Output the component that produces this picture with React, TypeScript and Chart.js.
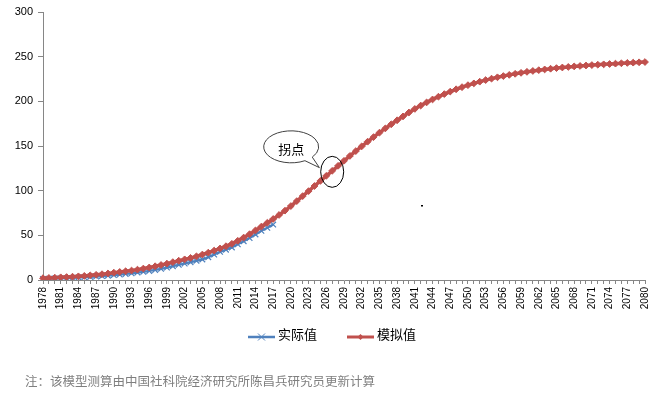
import React, { useEffect, useRef } from "react";
import { Chart, registerables } from "chart.js";

Chart.register(...registerables);

const years: string[] = [
  "1978","1979","1980","1981","1982","1983","1984","1985","1986","1987",
  "1988","1989","1990","1991","1992","1993","1994","1995","1996","1997",
  "1998","1999","2000","2001","2002","2003","2004","2005","2006","2007",
  "2008","2009","2010","2011","2012","2013","2014","2015","2016","2017",
  "2018","2019","2020","2021","2022","2023","2024","2025","2026","2027",
  "2028","2029","2030","2031","2032","2033","2034","2035","2036","2037",
  "2038","2039","2040","2041","2042","2043","2044","2045","2046","2047",
  "2048","2049","2050","2051","2052","2053","2054","2055","2056","2057",
  "2058","2059","2060","2061","2062","2063","2064","2065","2066","2067",
  "2068","2069","2070","2071","2072","2073","2074","2075","2076","2077",
  "2078","2079","2080",
];

// 实际值 1978–2017
const actual: number[] = [
  1.2, 1.4, 1.6, 1.8, 2.0, 2.3, 2.7, 3.1, 3.5, 3.9,
  4.4, 4.9, 5.5, 6.1, 6.8, 7.5, 8.3, 9.2, 10.2, 11.3,
  12.5, 13.9, 15.5, 17.0, 18.5, 20.0, 21.5, 23.0, 25.5, 28.5,
  31.5, 34.0, 36.5, 40.0, 43.5, 47.0, 51.0, 55.0, 58.5, 62.0,
];

// 模拟值 1978–2080
const simulated: number[] = [
  2.0, 2.3, 2.6, 3.0, 3.3, 3.7, 4.1, 4.6, 5.2, 5.8,
  6.5, 7.3, 8.2, 9.0, 9.8, 10.6, 11.6, 12.8, 14.0, 15.4,
  16.8, 18.3, 20.0, 21.6, 23.1, 24.7, 26.5, 28.5, 30.6, 32.9,
  35.3, 37.8, 40.5, 43.9, 47.5, 51.3, 55.5, 59.8, 64.0, 68.3,
  72.8, 77.6, 82.8, 88.3, 93.9, 99.5, 105.2, 110.9, 116.6, 122.2,
  127.8, 133.4, 138.9, 144.3, 149.6, 154.8, 159.9, 164.9, 169.7, 174.3,
  178.8, 183.1, 187.5, 191.5, 195.3, 198.8, 202.1, 205.2, 208.1, 210.9,
  213.5, 215.9, 218.1, 220.1, 222.0, 223.8, 225.4, 226.9, 228.3, 229.6,
  230.8, 231.9, 233.0, 234.0, 234.9, 235.7, 236.5, 237.2, 237.9, 238.5,
  239.1, 239.6, 240.1, 240.6, 241.0, 241.4, 241.8, 242.2, 242.6, 243.0,
  243.3, 243.7, 244.0,
];

const yTicks: number[] = [0, 50, 100, 150, 200, 250, 300];

const seriesNames: string[] = ["实际值", "模拟值"];
const turningLabel = "拐点";
const turningYear = "2027";
const footnote = "注：该模型测算由中国社科院经济研究所陈昌兵研究员更新计算";

const BLUE = "#4F81BD";
const RED = "#C0504D";
const AXIS = "#868686";
const CJK = "'Noto Sans CJK SC', 'Noto Sans', sans-serif";

const overlay = {
  id: "overlay",
  afterDraw(chart: any) {
    const ctx: CanvasRenderingContext2D = chart.ctx;
    const xs = chart.scales.x;
    const ys = chart.scales.y;
    const i = years.indexOf(turningYear);
    const cx = xs.getPixelForValue(i);
    const cy = ys.getPixelForValue(simulated[i]) + 1;
    ctx.save();
    // small ellipse around the turning point
    ctx.strokeStyle = "#000";
    ctx.lineWidth = 1;
    ctx.beginPath();
    ctx.ellipse(cx, cy, 11.5, 15.5, 0, 0, Math.PI * 2);
    ctx.stroke();
    // speech bubble
    const bx = cx - 41;
    const by = cy - 25;
    const tipX = cx - 12.8;
    const tipY = cy - 4.2;
    ctx.beginPath();
    ctx.ellipse(bx, by, 27.5, 16, 0, (60 * Math.PI) / 180, (400 * Math.PI) / 180);
    ctx.lineTo(tipX, tipY);
    ctx.closePath();
    ctx.fillStyle = "#fff";
    ctx.fill();
    ctx.strokeStyle = "#404040";
    ctx.stroke();
    ctx.fillStyle = "#000";
    ctx.font = `13px ${CJK}`;
    ctx.textAlign = "center";
    ctx.textBaseline = "middle";
    ctx.fillText(turningLabel, bx, by + 2);

    // stray mark
    ctx.fillStyle = "#000";
    ctx.fillRect(421, 205, 2, 1.5);

    // legend
    const ly = 337;
    const drawEntry = (x0: number, color: string, kind: string, label: string) => {
      ctx.strokeStyle = color;
      ctx.lineWidth = kind === "cross" ? 2.5 : 3;
      ctx.beginPath();
      ctx.moveTo(x0, ly);
      ctx.lineTo(x0 + 27, ly);
      ctx.stroke();
      const mx = x0 + 13.5;
      if (kind === "cross") {
        ctx.lineWidth = 1;
        ctx.beginPath();
        ctx.moveTo(mx - 3.5, ly - 3.5);
        ctx.lineTo(mx + 3.5, ly + 3.5);
        ctx.moveTo(mx + 3.5, ly - 3.5);
        ctx.lineTo(mx - 3.5, ly + 3.5);
        ctx.stroke();
      } else {
        ctx.fillStyle = color;
        ctx.beginPath();
        ctx.moveTo(mx, ly - 3);
        ctx.lineTo(mx + 3, ly);
        ctx.lineTo(mx, ly + 3);
        ctx.lineTo(mx - 3, ly);
        ctx.closePath();
        ctx.fill();
      }
      ctx.fillStyle = "#000";
      ctx.font = `13px ${CJK}`;
      ctx.textAlign = "left";
      ctx.textBaseline = "middle";
      ctx.fillText(label, x0 + 30, ly - 3);
    };
    drawEntry(248, BLUE, "cross", seriesNames[0]);
    drawEntry(347, RED, "diamond", seriesNames[1]);

    // footnote
    ctx.fillStyle = "#7f7f7f";
    ctx.font = `12.5px ${CJK}`;
    ctx.textAlign = "left";
    ctx.textBaseline = "middle";
    ctx.fillText(footnote, 25, 381);
    ctx.restore();
  },
};

export default function App() {
  const ref = useRef<HTMLCanvasElement | null>(null);
  useEffect(() => {
    if (!ref.current) return;
    const chart = new Chart(ref.current, {
      type: "line",
      data: {
        labels: years,
        datasets: [
          {
            label: seriesNames[0],
            data: actual,
            borderColor: BLUE,
            backgroundColor: BLUE,
            borderWidth: 2.25,
            pointStyle: "crossRot",
            pointRadius: 4,
            pointBorderWidth: 1.2,
            pointBorderColor: BLUE,
            tension: 0,
            order: 1,
          },
          {
            label: seriesNames[1],
            data: simulated,
            borderColor: RED,
            backgroundColor: RED,
            borderWidth: 3.5,
            pointStyle: "rectRot",
            pointRadius: 3.4,
            pointBorderWidth: 1,
            pointBorderColor: RED,
            tension: 0,
            order: 0,
          },
        ],
      },
      options: {
        responsive: false,
        animation: false,
        devicePixelRatio: 1,
        layout: { padding: { left: 0, right: 11, top: 12, bottom: 0 } },
        plugins: { legend: { display: false }, tooltip: { enabled: false } },
        scales: {
          x: {
            type: "category",
            offset: false,
            grid: {
              display: true,
              drawOnChartArea: false,
              drawTicks: true,
              tickLength: 4,
              color: AXIS,
            },
            border: { display: true, color: AXIS, width: 1 },
            ticks: {
              autoSkip: false,
              minRotation: 90,
              maxRotation: 90,
              padding: 3,
              color: "#000",
              font: { family: "'Liberation Sans', Arial, sans-serif", size: 10 },
              callback: (_v: any, idx: number) => (idx % 3 === 0 ? years[idx] : ""),
            },
            afterFit: (s: any) => {
              s.height = 116;
            },
          },
          y: {
            min: 0,
            max: 300,
            afterBuildTicks: (s: any) => {
              s.ticks = yTicks.map((v) => ({ value: v }));
            },
            grid: {
              display: true,
              drawOnChartArea: false,
              drawTicks: true,
              tickLength: 5,
              color: AXIS,
            },
            border: { display: true, color: AXIS, width: 1 },
            ticks: {
              padding: 5,
              color: "#000",
              font: { family: "'Liberation Sans', Arial, sans-serif", size: 11 },
            },
            afterFit: (s: any) => {
              s.width = 43;
            },
          },
        },
      },
      plugins: [overlay],
    } as any);
    return () => chart.destroy();
  }, []);
  return (
    <div style={{ position: "fixed", left: 0, top: 0, width: 660, height: 396, background: "#fff" }}>
      <canvas ref={ref} width={660} height={396} style={{ display: "block" }} />
    </div>
  );
}
